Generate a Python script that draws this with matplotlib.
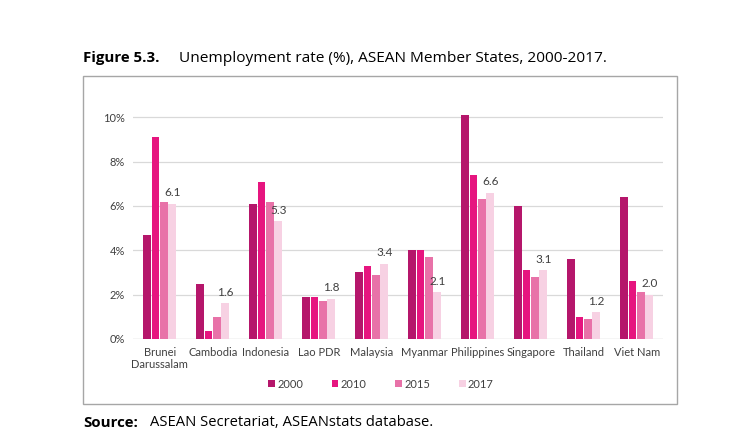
import numpy as np
import matplotlib.pyplot as plt
from matplotlib.patches import Rectangle

# --- data ---
countries = ["Brunei\nDarussalam", "Cambodia", "Indonesia", "Lao PDR", "Malaysia",
             "Myanmar", "Philippines", "Singapore", "Thailand", "Viet Nam"]
years = ["2000", "2010", "2015", "2017"]
u2000 = [4.7, 2.5, 6.1, 1.9, 3.0, 4.0, 10.1, 6.0, 3.6, 6.4]
u2010 = [9.1, 0.35, 7.1, 1.9, 3.3, 4.0, 7.4, 3.1, 1.0, 2.6]
u2015 = [6.2, 1.0, 6.2, 1.7, 2.9, 3.7, 6.3, 2.8, 0.9, 2.1]
u2017 = [6.1, 1.6, 5.3, 1.8, 3.4, 2.1, 6.6, 3.1, 1.2, 2.0]
yticks = [0, 2, 4, 6, 8, 10]

colors = ["#B5166B", "#E6157F", "#E872A8", "#F7D1E3"]
series = [u2000, u2010, u2015, u2017]

plt.rcParams['font.family'] = ['Lato', 'DejaVu Sans']

fig = plt.figure(figsize=(7.36, 4.43), dpi=100)
ax = fig.add_axes([0.181, 0.235, 0.72, 0.525])

x = np.arange(len(countries))
w = 0.158
for i, (vals, c, yr) in enumerate(zip(series, colors, years)):
    pos = x + (i - 1.5) * w
    ax.bar(pos, vals, width=w * 0.94, color=c, label=yr, zorder=3)
    if yr == "2017":
        for px, v in zip(pos, vals):
            ax.text(px, v + 0.25, f"{v:.1f}", ha="center", va="bottom",
                    fontsize=8.5, color="#404040")

ax.set_ylim(0, 10.5)
ax.set_xlim(-0.5, len(countries) - 0.5)
ax.set_yticks(yticks)
ax.set_yticklabels([f"{t}%" for t in yticks], fontsize=8, color="#404040")
ax.set_xticks(x)
ax.set_xticklabels(countries, fontsize=8, color="#404040", linespacing=1.1)
ax.tick_params(length=0, pad=6)
ax.grid(axis="y", color="#D9D9D9", linewidth=0.9, zorder=0)
for s in ax.spines.values():
    s.set_visible(False)
ax.axhline(0, color="#D9D9D9", linewidth=0.9, zorder=2)

leg = fig.legend(loc="center", bbox_to_anchor=(381 / 736, 1 - 384 / 443), ncol=4,
                 frameon=False, fontsize=8, handlelength=0.6, handleheight=0.6,
                 handletextpad=0.2, columnspacing=2.6)
for t in leg.get_texts():
    t.set_color("#404040")

# frame around the chart
fig.patches.append(Rectangle((83 / 736, 1 - 404 / 443), (677 - 83) / 736, (404 - 76) / 443,
                             transform=fig.transFigure, fill=False,
                             edgecolor="#A6A6A6", linewidth=1.0))

# title & source
hdr = ["Open Sans", "DejaVu Sans"]
fig.text(83 / 736, 1 - 58 / 443, "Figure 5.3.", fontsize=10.8, fontweight="bold",
         va="center", family=hdr)
fig.text(179 / 736, 1 - 58 / 443, "Unemployment rate (%), ASEAN Member States, 2000-2017.",
         fontsize=11.1, va="center", family=hdr)
fig.text(83 / 736, 1 - 423 / 443, "Source:", fontsize=10.8, fontweight="bold",
         va="center", family=hdr)
fig.text(150 / 736, 1 - 423 / 443, "ASEAN Secretariat, ASEANstats database.",
         fontsize=10.6, va="center", family=hdr)

fig.savefig("out.png", dpi=100)
